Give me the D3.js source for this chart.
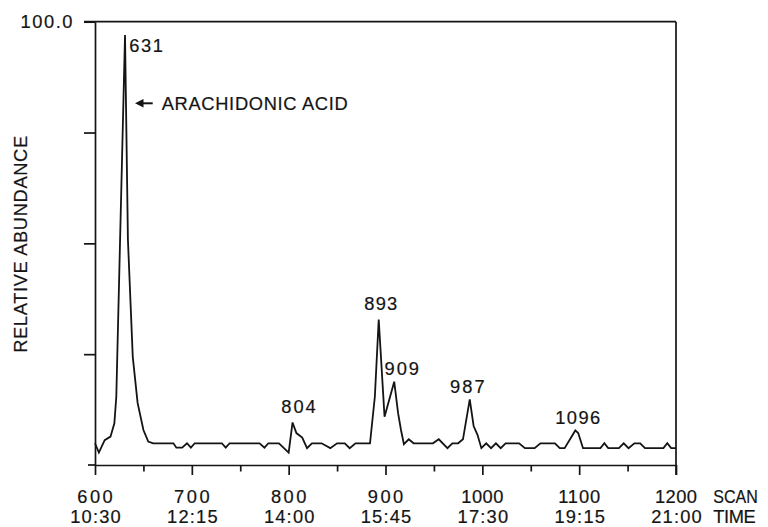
<!DOCTYPE html>
<html>
<head>
<meta charset="utf-8">
<script src="https://cdn.jsdelivr.net/npm/d3@7"></script>
<style>
  html, body { margin: 0; padding: 0; background: #fff; }
  svg { display: block; }
</style>
</head>
<body>
<svg id="chart" width="768" height="527"></svg>
<script>
// Reconstructed ion chromatogram: scan number vs. relative abundance (%)
const scanNumbers = [
  600, 604, 610, 616, 620, 622, 631, 634, 639, 644, 650, 655, 660,
  681, 684, 690, 695, 699, 703, 731, 735, 739, 770, 775, 779, 790,
  800, 804, 808, 814, 819, 824, 834, 843, 850, 858, 863, 869, 884,
  889, 893, 899, 909, 913, 916, 919, 924, 929, 949, 955, 964, 969,
  975, 980, 987, 991, 995, 999, 1004, 1009, 1014, 1019, 1024, 1038,
  1044, 1054, 1060, 1075, 1080, 1085, 1096, 1099, 1104, 1122, 1126,
  1130, 1141, 1146, 1151, 1157, 1163, 1168, 1187, 1191, 1195, 1200
];
const abundance = [
  4.9, 2.8, 5.6, 6.4, 9.4, 15.4, 97.0, 50.8, 24.4, 14.0, 7.9, 5.3, 4.9,
  4.9, 3.9, 3.9, 4.9, 3.9, 4.9, 4.9, 3.9, 4.9, 4.9, 3.9, 4.9, 4.9,
  2.8, 9.6, 7.2, 6.2, 3.8, 4.9, 4.9, 3.8, 4.9, 4.9, 3.8, 4.9, 4.9,
  15.4, 32.8, 10.9, 18.8, 11.7, 7.9, 4.7, 5.8, 4.9, 4.9, 5.8, 3.8, 4.9,
  4.9, 5.8, 14.8, 8.8, 6.8, 3.8, 4.9, 3.8, 4.9, 3.8, 4.9, 4.9,
  3.8, 3.8, 4.9, 4.9, 3.8, 3.8, 7.8, 7.2, 3.8, 3.8, 4.9,
  3.8, 3.8, 4.9, 3.8, 4.9, 4.9, 3.8, 3.8, 4.9, 3.8, 3.8
];
const peakScans = [631, 804, 893, 909, 987, 1096];
const scanTicks = [600, 700, 800, 900, 1000, 1100, 1200];
const timeLabels = ["10:30", "12:15", "14:00", "15:45", "17:30", "19:15", "21:00"];
const minorScanTicks = [650, 750, 850, 950, 1050, 1150];
const abundanceTicks = [25, 50, 75, 100];
const annotationText = "ARACHIDONIC ACID";
const yTitle = "RELATIVE ABUNDANCE";

const svg = d3.select("#chart");
const ink = "#141414";
const font = "'Liberation Sans', Arial, Helvetica, sans-serif";
const fontSize = 18.3;

const x = d3.scaleLinear().domain([600, 1200]).range([95, 676]);
const y = d3.scaleLinear().domain([0, 100]).range([465, 21.7]);

// Frame: top rule (extends left as the 100 tick) and right edge
svg.append("line")
  .attr("x1", 84).attr("x2", x(1200))
  .attr("y1", y(100)).attr("y2", y(100))
  .attr("stroke", ink).attr("stroke-width", 1.7);
svg.append("line")
  .attr("x1", x(1200)).attr("x2", x(1200))
  .attr("y1", y(100)).attr("y2", y(0) + 10)
  .attr("stroke", ink).attr("stroke-width", 1.7);

// Left axis
const yAxis = svg.append("g")
  .attr("transform", `translate(${x(600)},0)`)
  .call(d3.axisLeft(y).tickValues(abundanceTicks).tickSize(11).tickSizeOuter(0).tickFormat(""));
yAxis.selectAll("path, line").attr("stroke", ink).attr("stroke-width", 1.7);

// Bottom axis (major every 100 scans, minor every 50)
const xAxis = svg.append("g")
  .attr("transform", `translate(0,${y(0)})`)
  .call(d3.axisBottom(x).tickValues(scanTicks.concat(minorScanTicks)).tickSize(10).tickSizeOuter(0).tickFormat(""));
xAxis.selectAll("path, line").attr("stroke", ink).attr("stroke-width", 1.7);
xAxis.selectAll(".tick").filter(d => minorScanTicks.includes(d))
  .select("line").attr("y2", 6.5);
svg.append("line")
  .attr("x1", 88).attr("x2", x(600))
  .attr("y1", y(0)).attr("y2", y(0))
  .attr("stroke", ink).attr("stroke-width", 1.7);

// Helper for the wide-set plotter lettering
function label(sel, txt, len, adjust) {
  return sel.append("text")
    .text(txt)
    .attr("font-family", font)
    .attr("font-size", fontSize)
    .attr("fill", ink)
    .attr("stroke", ink)
    .attr("stroke-width", 0.2)
    .attr("textLength", len)
    .attr("lengthAdjust", adjust || "spacing");
}

// Y tick label (top only)
label(svg, "100.0", 52)
  .attr("x", 72.5).attr("y", y(100) + 6.5)
  .attr("text-anchor", "end");

// Y title
label(svg, yTitle, 217)
  .attr("text-anchor", "middle")
  .attr("transform", `translate(26.5,${(y(0) + y(100)) / 2 + 1}) rotate(-90)`);

// X tick labels: scan number and retention time
scanTicks.forEach((s, i) => {
  label(svg, String(s), s >= 1000 ? 42 : 35.5)
    .attr("x", x(s)).attr("y", 503.3)
    .attr("text-anchor", "middle");
  label(svg, timeLabels[i], 50.5)
    .attr("x", x(s) + 0.5).attr("y", 523)
    .attr("text-anchor", "middle");
});
label(svg, "SCAN", 44.5, "spacingAndGlyphs").attr("x", 713.3).attr("y", 503.3);
label(svg, "TIME", 42.5).attr("x", 713.3).attr("y", 523);

// Trace
const points = scanNumbers.map((s, i) => [s, abundance[i]]);
svg.append("path")
  .datum(points)
  .attr("fill", "none")
  .attr("stroke", ink)
  .attr("stroke-width", 1.8)
  .attr("stroke-linejoin", "miter")
  .attr("d", d3.line().x(d => x(d[0])).y(d => y(d[1])));

// Peak scan labels
const nudge = {
  631:  { dx: 4.3, dy: 16.7, anchor: "start", len: 33.5 },
  804:  { dx: 6,   dy: -9,   anchor: "middle", len: 34.5 },
  893:  { dx: 2,   dy: -9.3, anchor: "middle", len: 33 },
  909:  { dx: 7.5, dy: -6.7, anchor: "middle", len: 34.5 },
  987:  { dx: -2.4, dy: -6,  anchor: "middle", len: 34.5 },
  1096: { dx: 2.4, dy: -6.7, anchor: "middle", len: 45 }
};
peakScans.forEach(s => {
  const v = abundance[scanNumbers.indexOf(s)];
  const n = nudge[s];
  label(svg, String(s), n.len)
    .attr("x", x(s) + n.dx)
    .attr("y", y(v) + n.dy)
    .attr("text-anchor", n.anchor);
});

// Arrow pointing at the main peak, with its annotation
const mainPeak = peakScans[0];
const ax = x(mainPeak) + 10, ay = 103.3;
svg.append("path")
  .attr("d", `M${ax},${ay} l8.5,-4.2 l0,8.4 Z`)
  .attr("fill", ink);
svg.append("line")
  .attr("x1", ax + 7).attr("x2", ax + 17.7)
  .attr("y1", ay).attr("y2", ay)
  .attr("stroke", ink).attr("stroke-width", 2);
label(svg, annotationText, 186)
  .attr("x", 161.7).attr("y", 110);
</script>
</body>
</html>
